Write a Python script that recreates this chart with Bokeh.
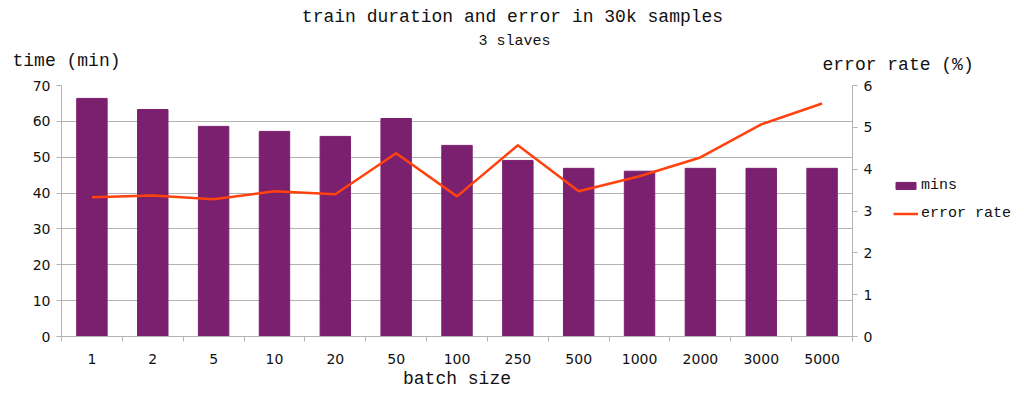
from bokeh.plotting import figure
from bokeh.layouts import column, row
from bokeh.models import (ColumnDataSource, Range1d, LinearAxis, FixedTicker,
                          Legend, LegendItem)
from bokeh.core.properties import value
from bokeh.embed import file_html
from bokeh.resources import INLINE

categories = ["1", "2", "5", "10", "20", "50", "100", "250", "500", "1000", "2000", "3000", "5000"]
mins = [66.4, 63.3, 58.6, 57.2, 55.8, 60.8, 53.3, 49.1, 46.9, 46.1, 46.9, 46.9, 46.9]
error_rate = [3.33, 3.37, 3.28, 3.47, 3.40, 4.38, 3.35, 4.57, 3.47, 3.83, 4.28, 5.07, 5.57]
left_ticks = [0, 10, 20, 30, 40, 50, 60, 70]
right_ticks = [0, 1, 2, 3, 4, 5, 6]

title_text = "train duration and error in 30k samples"
subtitle_text = "3 slaves"
left_axis_title = "time (min)"
right_axis_title = "error rate (%)"
x_axis_title = "batch size"
series_names = ["mins", "error rate"]

MONO = "Liberation Mono"
SANS = "DejaVu Sans"
GRAY = "#b3b3b3"
BAR_COLOR = "#7b1f6f"
LINE_COLOR = "#ff420e"
TEXT_COLOR = "#111111"

xs = list(range(len(categories)))
src = ColumnDataSource(dict(x=xs, mins=mins, err=error_rate))

# ---------------- header (titles) ----------------
TOTAL_W = 1016
HEADER_H = 78
header = figure(width=TOTAL_W, height=HEADER_H, output_backend="svg", toolbar_location=None,
                x_range=Range1d(0, TOTAL_W), y_range=Range1d(HEADER_H, 0),
                x_axis_type=None, y_axis_type=None, min_border=0)
header.outline_line_color = None
header.grid.visible = False
header.text(x=[512], y=[16], text=[title_text], text_font=value(MONO), text_font_size="18px",
            text_align="center", text_baseline="middle", text_color=TEXT_COLOR)
header.text(x=[514], y=[41], text=[subtitle_text], text_font=value(MONO), text_font_size="15px",
            text_align="center", text_baseline="middle", text_color=TEXT_COLOR)
header.text(x=[12], y=[60], text=[left_axis_title], text_font=value(MONO), text_font_size="18px",
            text_align="left", text_baseline="middle", text_color=TEXT_COLOR)
header.text(x=[822], y=[64], text=[right_axis_title], text_font=value(MONO), text_font_size="18px",
            text_align="left", text_baseline="middle", text_color=TEXT_COLOR)

# ---------------- main chart ----------------
MAIN_W = 878
MAIN_H = 313
p = figure(width=MAIN_W, height=MAIN_H, output_backend="svg", toolbar_location=None,
           x_range=Range1d(-0.5, len(categories) - 0.5), y_range=Range1d(0, 70),
           min_border_left=61, min_border_right=26, min_border_top=7, min_border_bottom=50)
p.outline_line_color = None
p.extra_y_ranges = {"err": Range1d(0, 6)}

bars = p.vbar(x="x", top="mins", width=0.5, source=src, fill_color=BAR_COLOR, line_color=BAR_COLOR)
line = p.line(x="x", y="err", source=src, y_range_name="err", line_color=LINE_COLOR, line_width=2.5)

xa = p.xaxis[0]
xa.ticker = FixedTicker(ticks=xs, minor_ticks=[i - 0.5 for i in range(len(categories) + 1)])
xa.major_label_overrides = {i: c for i, c in enumerate(categories)}
xa.major_tick_out = 0
xa.major_tick_in = 0
xa.minor_tick_out = 5
xa.minor_tick_in = 0
xa.minor_tick_line_color = GRAY
xa.axis_line_color = GRAY
xa.major_label_text_font = SANS
xa.major_label_text_font_size = "14px"
xa.major_label_text_color = TEXT_COLOR
xa.major_label_standoff = 12
xa.axis_label = x_axis_title
xa.axis_label_text_font = MONO
xa.axis_label_text_font_size = "18px"
xa.axis_label_text_font_style = "normal"
xa.axis_label_text_color = TEXT_COLOR
xa.axis_label_standoff = 2
p.xgrid.visible = False

ya = p.yaxis[0]
ya.ticker = FixedTicker(ticks=left_ticks)
ya.minor_tick_line_color = None
ya.major_tick_out = 5
ya.major_tick_in = 0
ya.major_tick_line_color = GRAY
ya.axis_line_color = GRAY
ya.major_label_text_font = SANS
ya.major_label_text_font_size = "14px"
ya.major_label_text_color = TEXT_COLOR
ya.major_label_standoff = 6
p.ygrid.ticker = FixedTicker(ticks=left_ticks)
p.ygrid.grid_line_color = GRAY

ra = LinearAxis(y_range_name="err", ticker=FixedTicker(ticks=right_ticks))
ra.minor_tick_line_color = None
ra.major_tick_out = 5
ra.major_tick_in = 0
ra.major_tick_line_color = GRAY
ra.axis_line_color = GRAY
ra.major_label_text_font = SANS
ra.major_label_text_font_size = "14px"
ra.major_label_text_color = TEXT_COLOR
ra.major_label_standoff = 6
p.add_layout(ra, "right")

# ---------------- legend panel ----------------
LEG_W = TOTAL_W - MAIN_W
lg = figure(width=LEG_W, height=MAIN_H, output_backend="svg", toolbar_location=None,
            x_range=Range1d(-0.5, len(categories) - 0.5), y_range=Range1d(0, 70),
            x_axis_type=None, y_axis_type=None, min_border=0)
lg.outline_line_color = None
lg.grid.visible = False
lbars = lg.vbar(x="x", top="mins", width=0.5, source=src, fill_color=BAR_COLOR,
                line_color=BAR_COLOR, visible=False)
lline = lg.line(x="x", y="err", source=src, line_color=LINE_COLOR, line_width=2.5, visible=False)
legend = Legend(items=[LegendItem(label=series_names[0], renderers=[lbars]),
                       LegendItem(label=series_names[1], renderers=[lline])],
                location=(15, 113), border_line_color=None, background_fill_alpha=0,
                inactive_fill_alpha=0,
                label_text_font=MONO, label_text_font_size="15px", label_text_color=TEXT_COLOR,
                glyph_width=25, glyph_height=9, label_height=20, spacing=8,
                label_standoff=3, padding=0, margin=0)
lg.add_layout(legend, "center")

layout = column(header, row(p, lg, spacing=0), spacing=0)
open("out.html", "w").write(file_html(layout, INLINE))
